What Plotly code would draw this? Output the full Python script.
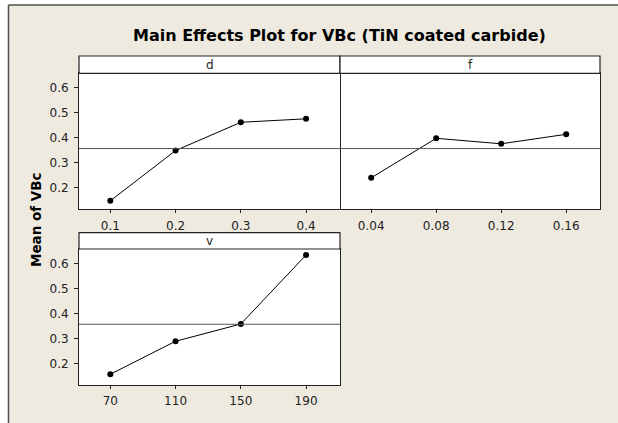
import plotly.graph_objects as go

# factor levels (shown as categories) and mean VBc at each level
d_levels = ["0.1", "0.2", "0.3", "0.4"]
d_means = [0.148, 0.349, 0.462, 0.476]

f_levels = ["0.04", "0.08", "0.12", "0.16"]
f_means = [0.240, 0.398, 0.376, 0.414]

v_levels = ["70", "110", "150", "190"]
v_means = [0.157, 0.289, 0.358, 0.634]

grand_mean = 0.357
y_ticks = [0.2, 0.3, 0.4, 0.5, 0.6]

W, H = 618, 423
BEIGE = "#EEEAE0"
FONT = "DejaVu Sans"


def px_x(p):
    return p / W


def px_y(p):
    return 1 - p / H


# panel boxes in pixels: (left, right, top, bottom, strip top)
panels = [
    ("d", d_levels, d_means, (79, 340, 73.3, 209.3, 56)),
    ("f", f_levels, f_means, (340, 600, 73.3, 209.3, 56)),
    ("v", v_levels, v_means, (79, 340, 249, 385, 232.7)),
]

fig = go.Figure()
shapes = [
    # white margin outside the beige page, then the page frame (left and top)
    dict(type="rect", xref="paper", yref="paper", x0=0, x1=1, y0=px_y(5), y1=1,
         fillcolor="white", line=dict(width=0), layer="below"),
    dict(type="rect", xref="paper", yref="paper", x0=0, x1=px_x(8.5), y0=0, y1=1,
         fillcolor="white", line=dict(width=0), layer="below"),
    dict(type="line", xref="paper", yref="paper", x0=px_x(8.5), x1=1, y0=px_y(5), y1=px_y(5),
         line=dict(color="#505050", width=1.5), layer="below"),
    dict(type="line", xref="paper", yref="paper", x0=px_x(8.5), x1=px_x(8.5), y0=0, y1=px_y(5),
         line=dict(color="#505050", width=1.5), layer="below"),
]
annotations = []
layout_axes = {}

for i, (name, levels, means, box) in enumerate(panels, start=1):
    left, right, top, bottom, strip_top = box
    xa = "x" if i == 1 else f"x{i}"
    ya = "y" if i == 1 else f"y{i}"
    fig.add_trace(go.Scatter(
        x=list(range(len(levels))), y=means, xaxis=xa, yaxis=ya,
        mode="lines+markers", showlegend=False,
        line=dict(color="black", width=1),
        marker=dict(color="black", size=6),
        cliponaxis=False,
    ))
    show_y = name != "f"
    layout_axes[f"xaxis{'' if i == 1 else i}"] = dict(
        domain=[px_x(left), px_x(right)], anchor=ya,
        range=[-0.48, 3.52], tickvals=list(range(len(levels))), ticktext=levels,
        showgrid=False, zeroline=False, showline=True, mirror=True,
        linecolor="#222222", linewidth=1, ticks="outside", ticklen=3,
        tickcolor="#222222", ticklabelstandoff=2,
        tickfont=dict(family=FONT, size=12, color="#222222"),
    )
    layout_axes[f"yaxis{'' if i == 1 else i}"] = dict(
        domain=[px_y(bottom), px_y(top)], anchor=xa,
        range=[0.114, 0.658], tickvals=y_ticks, tickformat=".1f",
        showticklabels=show_y, ticks="outside" if show_y else "", ticklen=4,
        tickcolor="#222222",
        # the f panel shares its left border with d, so only draw its right side
        side="left" if show_y else "right", mirror=show_y,
        showgrid=False, zeroline=False, showline=True,
        linecolor="#222222", linewidth=1, ticklabelstandoff=3,
        tickfont=dict(family=FONT, size=12, color="#222222"),
    )
    # grand mean reference line
    shapes.append(dict(type="line", xref=f"{xa} domain", yref=ya,
                       x0=0, x1=1, y0=grand_mean, y1=grand_mean,
                       line=dict(color="#555555", width=1)))
    # strip header
    shapes.append(dict(type="rect", xref="paper", yref="paper",
                       x0=px_x(left), x1=px_x(right), y0=px_y(top), y1=px_y(strip_top),
                       fillcolor="white", line=dict(color="#222222", width=1.2)))
    annotations.append(dict(text=name, xref="paper", yref="paper",
                            x=px_x((left + right) / 2), y=px_y((top + strip_top) / 2),
                            showarrow=False, xanchor="center", yanchor="middle",
                            font=dict(family=FONT, size=12, color="#222222")))

annotations.append(dict(text="<b>Main Effects Plot for VBc (TiN coated carbide)</b>",
                        xref="paper", yref="paper", x=px_x(339.5), y=px_y(35),
                        showarrow=False, xanchor="center", yanchor="middle",
                        font=dict(family=FONT, size=16, color="black")))
annotations.append(dict(text="<b>Mean of VBc</b>", xref="paper", yref="paper",
                        x=px_x(36), y=px_y(220), textangle=-90,
                        showarrow=False, xanchor="center", yanchor="middle",
                        font=dict(family=FONT, size=13.5, color="black")))

fig.update_layout(
    width=W, height=H,
    margin=dict(l=0, r=0, t=0, b=0),
    paper_bgcolor=BEIGE, plot_bgcolor="white",
    shapes=shapes, annotations=annotations,
    **layout_axes,
)

# drop the browser's default page margin so the figure sits at the window origin
fig.write_html("out.html", config={"displayModeBar": False},
               post_script="document.body.style.margin='0';")
